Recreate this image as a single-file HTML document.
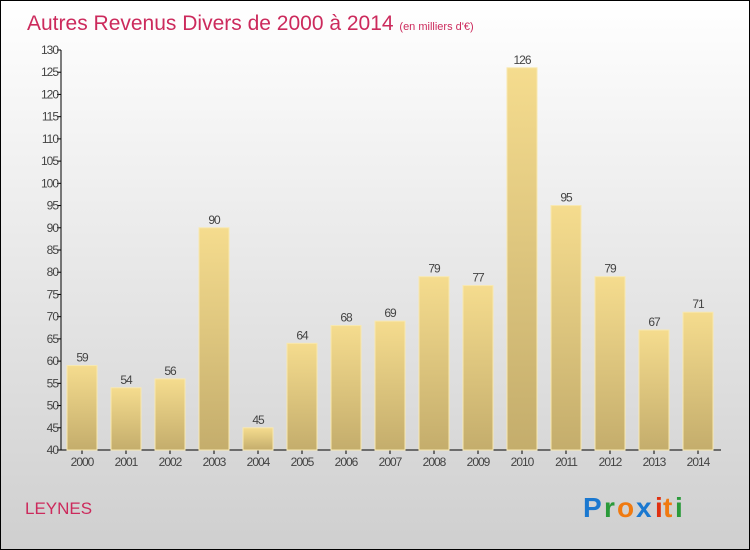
<!DOCTYPE html>
<html><head><meta charset="utf-8"><style>
body{margin:0}
#c{position:relative;width:748px;height:548px;border:1px solid #000;background:linear-gradient(#ffffff,#cfcfcf);font-family:"Liberation Sans",sans-serif;overflow:hidden}
</style></head><body>
<div id="c">
<svg width="748" height="548" id="s">
<defs><linearGradient id="g" x1="0" y1="0" x2="0" y2="1"><stop offset="0" stop-color="#f5dc8e"/><stop offset="1" stop-color="#c4ad6c"/></linearGradient></defs>
<text x="26" y="29" font-size="21" fill="#cc2a5c">Autres Revenus Divers de 2000 à 2014 <tspan font-size="11">(en milliers d'€)</tspan></text>
<text x="24" y="513" font-size="17" fill="#cc2a5c">LEYNES</text>
<g font-size="28" font-weight="bold">
<text x="582" y="516" fill="#1a78d0">P</text><text x="603" y="516" fill="#2a9a3a">r</text><text x="616" y="516" fill="#f07a10">o</text><text x="635" y="516" fill="#1a78d0">x</text><text x="654" y="516" fill="#e03010">i</text><text x="662" y="516" fill="#f07a10">t</text><text x="674" y="516" fill="#2a9a3a">i</text></g>
<g id="ax"></g><g id="bars"></g>
</svg></div>
<script>
const years=["2000","2001","2002","2003","2004","2005","2006","2007","2008","2009","2010","2011","2012","2013","2014"];
const values=[59,54,56,90,45,64,68,69,79,77,126,95,79,67,71];
const yTicks=[40,45,50,55,60,65,70,75,80,85,90,95,100,105,110,115,120,125,130];
const NS="http://www.w3.org/2000/svg";
const x0=60,x1=720,yB=449,yT=49,vmin=40,vmax=130;
const y=v=>yB-(v-vmin)/(vmax-vmin)*(yB-yT);
const step=(x1-x0)/years.length;
const xc=i=>x0+step*(i+0.5)-1;
function mk(t,a,p){const e=document.createElementNS(NS,t);for(const k in a)e.setAttribute(k,a[k]);p.appendChild(e);return e;}
const ax=document.getElementById('ax'),bars=document.getElementById('bars');
const yl=mk('line',{x1:x0,y1:yT,x2:x0,y2:yB,stroke:'#000'},ax);


const xl=mk('line',{x1:x0,y1:yB,x2:x1,y2:yB,stroke:'#000'},ax);


yTicks.forEach(v=>{
 mk('line',{x1:x0-4,y1:y(v),x2:x0,y2:y(v),stroke:'#000'},ax);
 const t=mk('text',{x:x0-3,y:y(v)+4,'font-size':12,fill:'#444','text-anchor':'end','letter-spacing':'-1'},ax);
 t.textContent=v;
 
 
});
years.forEach((yr,i)=>{
 const v=values[i],c=xc(i);
 const r=mk('rect',{x:c-15,y:y(v),width:30,height:yB-y(v),fill:'url(#g)',stroke:'#f8e8b0','stroke-width':1},bars);
 
 
 const l=mk('text',{x:c,y:y(v)-4,'font-size':12,fill:'#444','text-anchor':'middle','letter-spacing':'-1'},bars);
 l.textContent=v;
 
 
 mk('line',{x1:c,y1:yB,x2:c,y2:yB+4,stroke:'#000'},ax);
 const t=mk('text',{x:c,y:yB+16,'font-size':12,fill:'#444','text-anchor':'middle','letter-spacing':'-1'},ax);
 t.textContent=yr;
 
 
});
</script>
</body></html>
